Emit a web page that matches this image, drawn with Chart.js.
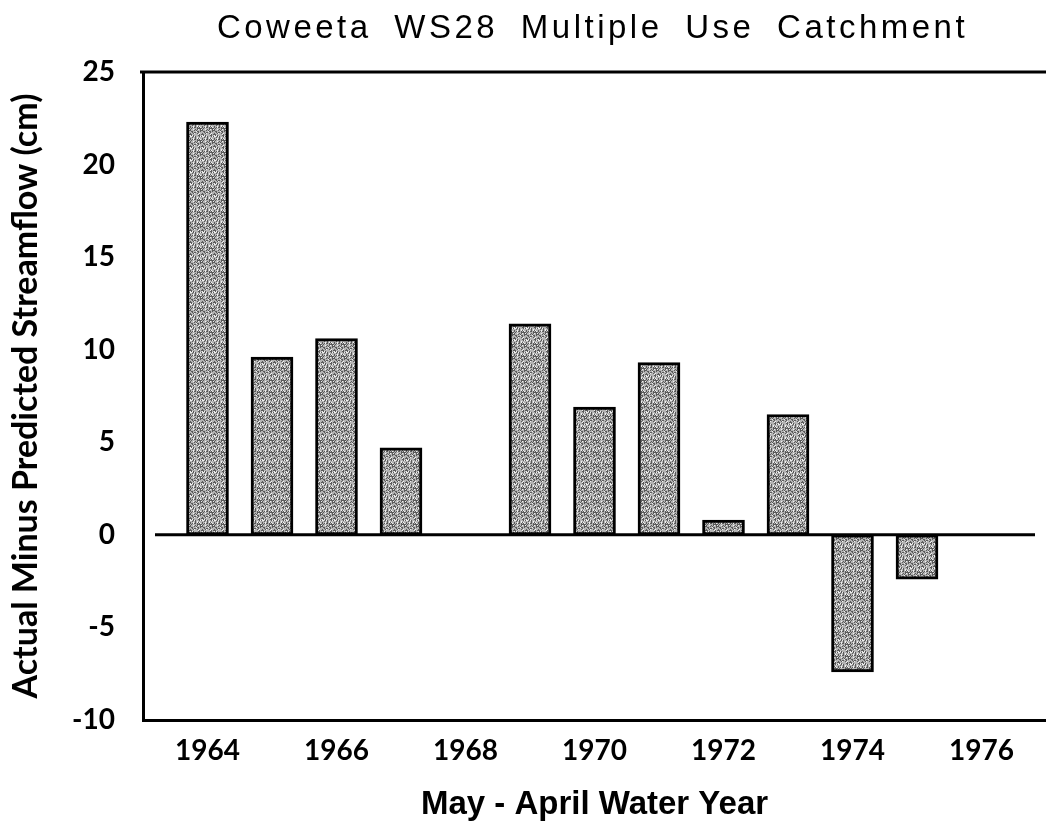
<!DOCTYPE html>
<html>
<head>
<meta charset="utf-8">
<script src="https://cdn.jsdelivr.net/npm/chart.js@4.4.1/dist/chart.umd.min.js"></script>
<style>
  html, body { margin: 0; padding: 0; background: #fff; }
  #wrap { width: 1046px; height: 833px; }
</style>
</head>
<body>
<div id="wrap"><canvas id="chart" width="1046" height="833"></canvas></div>
<script>
const titleText = 'Coweeta WS28 Multiple Use Catchment';
const xTitle = 'May - April Water Year';
const yTitle = 'Actual Minus Predicted Streamflow (cm)';

const years = [1964, 1965, 1966, 1967, 1968, 1969, 1970, 1971, 1972, 1973, 1974, 1975, 1976];
const flowDiff = [22.3, 9.6, 10.6, 4.7, null, 11.4, 6.9, 9.3, 0.8, 6.5, -7.4, -2.4, null];
const xTicks = [1964, 1966, 1968, 1970, 1972, 1974, 1976];
const yTicks = [-10, -5, 0, 5, 10, 15, 20, 25];

// speckled grey fill, like the scanned stipple
const makePattern = () => {
  const c = document.createElement('canvas');
  c.width = 12;
  c.height = 12;
  const g = c.getContext('2d');
  g.fillStyle = '#b4b4b4';
  g.fillRect(0, 0, 12, 12);
  let seed = 7;
  const next = () => {
    seed = (seed * 16807) % 2147483647;
    return seed / 2147483647;
  };
  for (let y = 0; y < 12; y++) {
    for (let x = 0; x < 12; x++) {
      const r = next();
      if (r < 0.35) {
        g.fillStyle = '#5a5a5a';
        g.fillRect(x, y, 1, 1);
      } else if (r < 0.5) {
        g.fillStyle = '#f0f0f0';
        g.fillRect(x, y, 1, 1);
      }
    }
  }
  return g.createPattern(c, 'repeat');
};

const frameLines = {
  id: 'frameLines',
  afterDatasetsDraw: (chart) => {
    const {ctx, chartArea, scales} = chart;
    const y0 = scales.y.getPixelForValue(0);
    ctx.save();
    ctx.strokeStyle = '#000';
    ctx.lineWidth = 3;
    ctx.beginPath();
    ctx.moveTo(chartArea.left + 12, y0);
    ctx.lineTo(chartArea.right - 11, y0);
    ctx.moveTo(chartArea.left - 3, chartArea.top);
    ctx.lineTo(chartArea.right, chartArea.top);
    ctx.stroke();
    ctx.restore();
  }
};

const spacedTitle = {
  id: 'spacedTitle',
  afterDraw: (chart) => {
    const {ctx, chartArea} = chart;
    ctx.save();
    ctx.font = '33px "Liberation Sans", Arial, sans-serif';
    ctx.letterSpacing = '3.5px';
    ctx.wordSpacing = '10px';
    ctx.fillStyle = '#000';
    ctx.textAlign = 'center';
    ctx.textBaseline = 'alphabetic';
    ctx.fillText(titleText, (chartArea.left + chartArea.right) / 2 - 2, 38);
    ctx.restore();
  }
};

Chart.defaults.color = '#000';

const ctx = document.getElementById('chart').getContext('2d');

new Chart(ctx, {
  type: 'bar',
  data: {
    datasets: [{
      data: years.map((yr, i) => ({x: yr, y: flowDiff[i]})).filter((d) => d.y !== null),
      backgroundColor: makePattern(),
      borderColor: '#000',
      borderWidth: 3,
      borderSkipped: false,
      barThickness: 42
    }]
  },
  options: {
    responsive: false,
    animation: false,
    layout: {
      padding: {top: 72, right: 0, left: 0, bottom: 0}
    },
    plugins: {
      legend: {display: false},
      tooltip: {enabled: false}
    },
    scales: {
      x: {
        type: 'linear',
        offset: false,
        min: 1963,
        max: 1977,
        afterBuildTicks: (scale) => {
          scale.ticks = xTicks.map((v) => ({value: v}));
        },
        afterFit: (scale) => {
          scale.height = 113;
        },
        grid: {display: false, drawTicks: false},
        border: {display: true, color: '#000', width: 3},
        ticks: {
          padding: 14,
          maxRotation: 0,
          autoSkip: false,
          font: {family: 'Lato', size: 28, weight: 'bold'},
          callback: (v) => String(v)
        },
        title: {
          display: true,
          text: xTitle,
          padding: {top: 0, bottom: 8},
          font: {family: '"Liberation Sans", Arial, sans-serif', size: 33, weight: 'bold'}
        }
      },
      y: {
        min: -10,
        max: 25,
        afterBuildTicks: (scale) => {
          scale.ticks = yTicks.map((v) => ({value: v}));
        },
        afterFit: (scale) => {
          scale.width = 143;
        },
        grid: {display: false, drawTicks: false},
        border: {display: true, color: '#000', width: 3},
        ticks: {
          padding: 28,
          font: {family: 'Lato', size: 28, weight: 'bold'}
        },
        title: {
          display: true,
          text: yTitle,
          padding: {top: 6, bottom: 0},
          font: {family: 'Lato', size: 34, weight: 'bold'}
        }
      }
    }
  },
  plugins: [frameLines, spacedTitle]
});
</script>
</body>
</html>
